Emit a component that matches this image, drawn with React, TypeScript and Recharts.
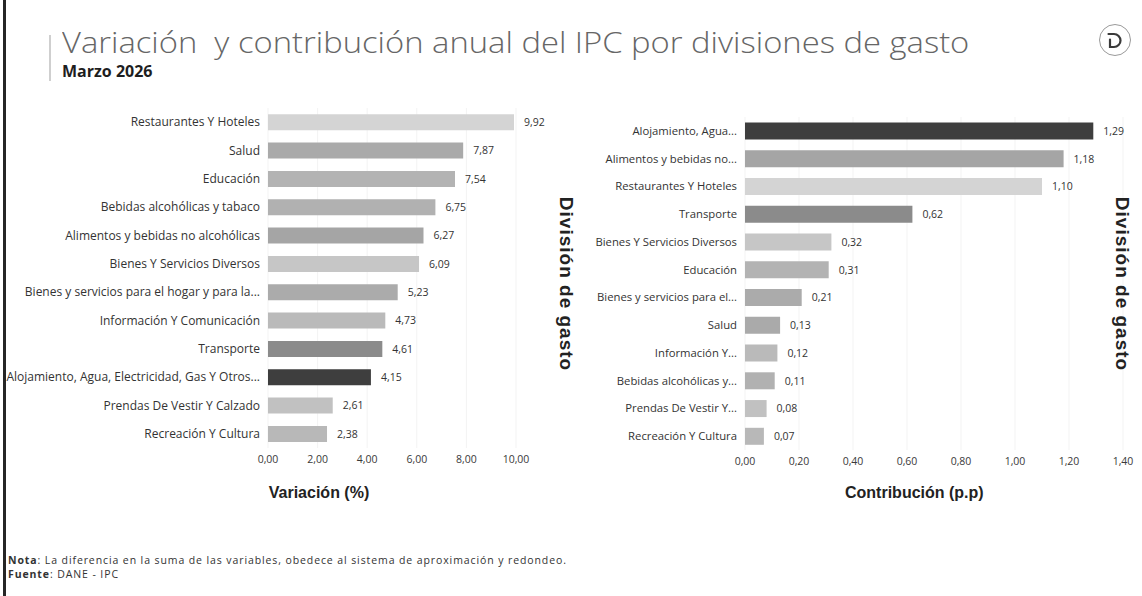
import React from 'react';
import { BarChart, Bar, XAxis, YAxis, CartesianGrid, Cell, LabelList } from 'recharts';

// Variación anual (%) por división, ordenado como en el gráfico
const leftLabels = [
  'Restaurantes Y Hoteles',
  'Salud',
  'Educación',
  'Bebidas alcohólicas y tabaco',
  'Alimentos y bebidas no alcohólicas',
  'Bienes Y Servicios Diversos',
  'Bienes y servicios para el hogar y para la...',
  'Información Y Comunicación',
  'Transporte',
  'Alojamiento, Agua, Electricidad, Gas Y Otros...',
  'Prendas De Vestir Y Calzado',
  'Recreación Y Cultura',
];
const leftValues = [9.92, 7.87, 7.54, 6.75, 6.27, 6.09, 5.23, 4.73, 4.61, 4.15, 2.61, 2.38];
const leftTicks = [0, 2, 4, 6, 8, 10];

// Contribución (p.p)
const rightLabels = [
  'Alojamiento, Agua...',
  'Alimentos y bebidas no...',
  'Restaurantes Y Hoteles',
  'Transporte',
  'Bienes Y Servicios Diversos',
  'Educación',
  'Bienes y servicios para el...',
  'Salud',
  'Información Y...',
  'Bebidas alcohólicas y...',
  'Prendas De Vestir Y...',
  'Recreación Y Cultura',
];
const rightValues = [1.29, 1.18, 1.1, 0.62, 0.32, 0.31, 0.21, 0.13, 0.12, 0.11, 0.08, 0.07];
const rightTicks = [0, 0.2, 0.4, 0.6, 0.8, 1.0, 1.2, 1.4];

const shades: Record<string, string> = {
  Restaurantes: '#d4d4d4',
  Salud: '#aaaaaa',
  Educación: '#b3b3b3',
  Bebidas: '#b1b1b1',
  Alimentos: '#a5a5a5',
  'Bienes Y': '#c6c6c6',
  'Bienes y': '#ababab',
  Información: '#bababa',
  Transporte: '#8b8b8b',
  Alojamiento: '#3e3e3e',
  Prendas: '#c1c1c1',
  Recreación: '#b8b8b8',
};

const shadeFor = (label: string) => {
  const two = label.split(' ').slice(0, 2).join(' ');
  if (shades[two]) return shades[two];
  return shades[label.split(/[ ,]/)[0]] ?? '#b0b0b0';
};

const fmt = (v: number) => v.toFixed(2).replace('.', ',');

const FONT = '"Open Sans", "Noto Sans", sans-serif';

// plain one-line tick, no wrapping
const CategoryTick = ({ x, y, payload, size }: any) => (
  <text x={x} y={y} dy="0.36em" textAnchor="end" fontSize={size} fill="#333" fontFamily={FONT}>
    {payload.value}
  </text>
);

function DivisionChart({
  labels,
  values,
  ticks,
  width,
  yWidth,
  margin,
  gap,
  labelSize,
}: {
  labels: string[];
  values: number[];
  ticks: number[];
  width: number;
  yWidth: number;
  margin: { top: number; right: number; bottom: number; left: number };
  gap: string;
  labelSize: number;
}) {
  const data = labels.map((label, i) => ({ label, value: values[i] }));
  return (
    <BarChart width={width} height={380} data={data} layout="vertical" margin={margin} barCategoryGap={gap}>
      <CartesianGrid horizontal={false} stroke="#f3f3f3" />
      <XAxis
        type="number"
        domain={[ticks[0], ticks[ticks.length - 1]]}
        ticks={ticks}
        tickFormatter={fmt}
        axisLine={false}
        tickLine={false}
        tick={{ fontSize: 10.5, fill: '#3a3a3a', fontFamily: FONT }}
        interval={0}
      />
      <YAxis
        type="category"
        dataKey="label"
        width={yWidth}
        axisLine={false}
        tickLine={false}
        tick={<CategoryTick size={labelSize} />}
        interval={0}
      />
      <Bar dataKey="value" isAnimationActive={false}>
        {data.map((d, i) => (
          <Cell key={i} fill={shadeFor(d.label)} />
        ))}
        <LabelList
          dataKey="value"
          position="right"
          offset={10}
          formatter={(v: number) => fmt(v)}
          style={{ fontSize: 10.5, fill: '#333', fontFamily: FONT }}
        />
      </Bar>
    </BarChart>
  );
}

const axisTitle: React.CSSProperties = {
  position: 'absolute',
  fontFamily: '"Liberation Sans", Arial, sans-serif',
  fontWeight: 700,
  fontSize: 16,
  color: '#222',
  whiteSpace: 'nowrap',
};

const sideTitle: React.CSSProperties = {
  ...axisTitle,
  fontSize: 19,
  letterSpacing: 1,
  transform: 'translate(-50%, -50%) rotate(90deg)',
};

function Logo() {
  return (
    <svg width={36} height={36} style={{ position: 'absolute', left: 1097, top: 22 }}>
      <circle cx={18} cy={18} r={15.5} fill="none" stroke="#9a9a9a" strokeWidth={1} />
      <path
        d="M11.5 12 H17 A6.5 6.5 0 0 1 17 25 H13 V17.5"
        fill="none"
        stroke="#3a3a3a"
        strokeWidth={2.2}
        strokeLinecap="round"
      />
    </svg>
  );
}

export default function App() {
  return (
    <div
      style={{
        position: 'absolute',
        left: 0,
        top: 0,
        width: 1142,
        height: 596,
        background: '#fff',
        overflow: 'hidden',
        fontFamily: FONT,
      }}
    >
      <div style={{ position: 'absolute', left: 3, top: 0, width: 3, height: 596, background: '#262626' }} />
      <div style={{ position: 'absolute', left: 49, top: 35, width: 2, height: 46, background: '#cfcfcf' }} />
      <div
        style={{
          position: 'absolute',
          left: 62,
          top: 26,
          fontSize: 29,
          fontWeight: 300,
          color: '#666',
          whiteSpace: 'pre',
          lineHeight: '32px',
          transform: 'scaleX(1.13)',
          transformOrigin: 'left center',
        }}
      >
        Variación  y contribución anual del IPC por divisiones de gasto
      </div>
      <div
        style={{
          position: 'absolute',
          left: 62,
          top: 62,
          fontSize: 16,
          fontWeight: 700,
          color: '#1e1e1e',
          lineHeight: '18px',
        }}
      >
        Marzo 2026
      </div>
      <Logo />

      <div style={{ position: 'absolute', left: 0, top: 100 }}>
        <DivisionChart
          labels={leftLabels}
          values={leftValues}
          ticks={leftTicks}
          width={560}
          yWidth={268}
          margin={{ top: 8, right: 44, bottom: 2, left: 0 }}
          gap="22%"
          labelSize={12}
        />
      </div>
      <div style={{ position: 'absolute', left: 580, top: 100 }}>
        <DivisionChart
          labels={rightLabels}
          values={rightValues}
          ticks={rightTicks}
          width={562}
          yWidth={165}
          margin={{ top: 17, right: 19, bottom: 0, left: 0 }}
          gap="20%"
          labelSize={11.3}
        />
      </div>

      <div style={{ ...axisTitle, left: 268, top: 484, width: 102, textAlign: 'center' }}>Variación (%)</div>
      <div style={{ ...axisTitle, left: 845, top: 484, width: 130, textAlign: 'center' }}>Contribución (p.p)</div>
      <div style={{ ...sideTitle, left: 566, top: 284 }}>División de gasto</div>
      <div style={{ ...sideTitle, left: 1122, top: 284 }}>División de gasto</div>

      <div
        style={{
          position: 'absolute',
          left: 8,
          top: 554,
          fontSize: 10.5,
          letterSpacing: 0.9,
          color: '#333',
          lineHeight: '13.5px',
        }}
      >
        <div>
          <b>Nota</b>: La diferencia en la suma de las variables, obedece al sistema de aproximación y redondeo.
        </div>
        <div>
          <b>Fuente</b>: DANE - IPC
        </div>
      </div>
    </div>
  );
}
